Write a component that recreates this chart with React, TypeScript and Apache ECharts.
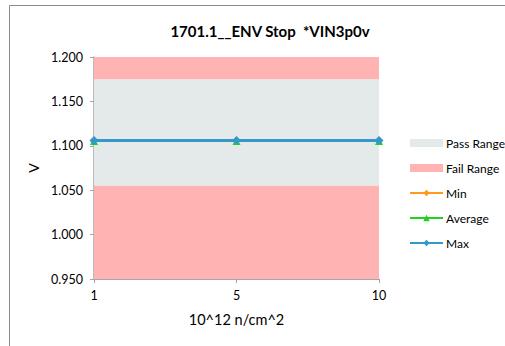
import React, { useEffect, useRef } from "react";
import * as echarts from "echarts";

const categories = ["1", "5", "10"];
const minValues = [1.106, 1.106, 1.106];
const avgValues = [1.1053, 1.1053, 1.1053];
const maxValues = [1.106, 1.106, 1.106];
const passRange = [1.055, 1.175];
const failRanges = [
  [0.95, 1.055],
  [1.175, 1.2],
];
const yMin = 0.95;
const yMax = 1.2;
const yStep = 0.05;

const FONT = "Lato, 'Liberation Sans', sans-serif";

export default function App() {
  const ref = useRef<HTMLDivElement>(null);
  useEffect(() => {
    if (!ref.current) return;
    const chart = echarts.init(ref.current, undefined, { renderer: "svg" });
    const lineSeries = (name: string, data: number[], color: string, symbol: string, size: number, width: number, z: number) => ({
      name,
      type: "line",
      data,
      symbol,
      symbolSize: size,
      z,
      lineStyle: { color, width },
      itemStyle: { color },
    });
    chart.setOption({
      animation: false,
      backgroundColor: "#ffffff",
      textStyle: { fontFamily: FONT },
      title: {
        text: "1701.1__ENV Stop  *VIN3p0v",
        left: 265,
        textAlign: "center",
        top: 18,
        textStyle: { fontSize: 15, fontWeight: "bold", color: "#000", fontFamily: FONT },
      },
      graphic: [
        {
          type: "rect",
          shape: { x: 9.5, y: 5.5, width: 520, height: 360 },
          style: { fill: "none", stroke: "#8c8c8c", lineWidth: 1 },
          silent: true,
          z: -10,
        },
      ],
      legend: {
        orient: "vertical",
        left: 409,
        top: 137,
        padding: 0,
        itemWidth: 33,
        itemHeight: 8,
        itemGap: 13,
        textStyle: { fontSize: 12, color: "#000", fontFamily: FONT, padding: [0, 0, 0, -2] },
        data: [
          { name: "Pass Range", icon: "rect" },
          { name: "Fail Range", icon: "rect" },
          { name: "Min" },
          { name: "Average" },
          { name: "Max" },
        ],
      },
      grid: { left: 94, right: 126, top: 57, bottom: 67 },
      xAxis: {
        type: "category",
        data: categories,
        boundaryGap: false,
        name: "10^12 n/cm^2",
        nameLocation: "middle",
        nameGap: 33,
        nameTextStyle: { fontSize: 14.5, color: "#000", fontFamily: FONT },
        axisLine: { lineStyle: { color: "#a6a6a6", width: 1 } },
        axisTick: { show: true, length: 4, alignWithLabel: true, lineStyle: { color: "#a6a6a6" } },
        axisLabel: { fontSize: 12.5, color: "#000", margin: 10, fontFamily: FONT },
        splitLine: { show: false },
      },
      yAxis: {
        type: "value",
        min: yMin,
        max: yMax,
        interval: yStep,
        name: "V",
        nameLocation: "middle",
        nameGap: 48,
        nameTextStyle: { fontSize: 14, color: "#000", fontFamily: FONT },
        axisLine: { show: true, lineStyle: { color: "#a6a6a6", width: 1.5 } },
        axisTick: { show: true, length: 4, lineStyle: { color: "#a6a6a6" } },
        axisLabel: {
          fontSize: 12.5,
          color: "#000",
          margin: 11,
          fontFamily: FONT,
          formatter: (v: number) => v.toFixed(3),
        },
        splitLine: { show: false },
      },
      series: [
        {
          name: "Pass Range",
          type: "line",
          data: [],
          itemStyle: { color: "#e4eaea" },
          lineStyle: { color: "#e4eaea" },
          markArea: {
            silent: true,
            itemStyle: { color: "#e4eaea" },
            data: [[{ yAxis: passRange[0] }, { yAxis: passRange[1] }]],
          },
          z: 1,
        },
        {
          name: "Fail Range",
          type: "line",
          data: [],
          itemStyle: { color: "#ffb3b3" },
          lineStyle: { color: "#ffb3b3" },
          markArea: {
            silent: true,
            itemStyle: { color: "#ffb3b3" },
            data: failRanges.map((r) => [{ yAxis: r[0] }, { yAxis: r[1] }]),
          },
          z: 1,
        },
        lineSeries("Min", minValues, "#ff9a1a", "diamond", 8, 2.5, 3),
        lineSeries("Average", avgValues, "#1ed21e", "triangle", 8, 2, 4),
        lineSeries("Max", maxValues, "#3399cc", "diamond", 9, 3, 5),
      ],
    });
    return () => chart.dispose();
  }, []);
  return (
    <div
      ref={ref}
      style={{ position: "fixed", left: 0, top: 0, width: 505, height: 346 }}
    />
  );
}
